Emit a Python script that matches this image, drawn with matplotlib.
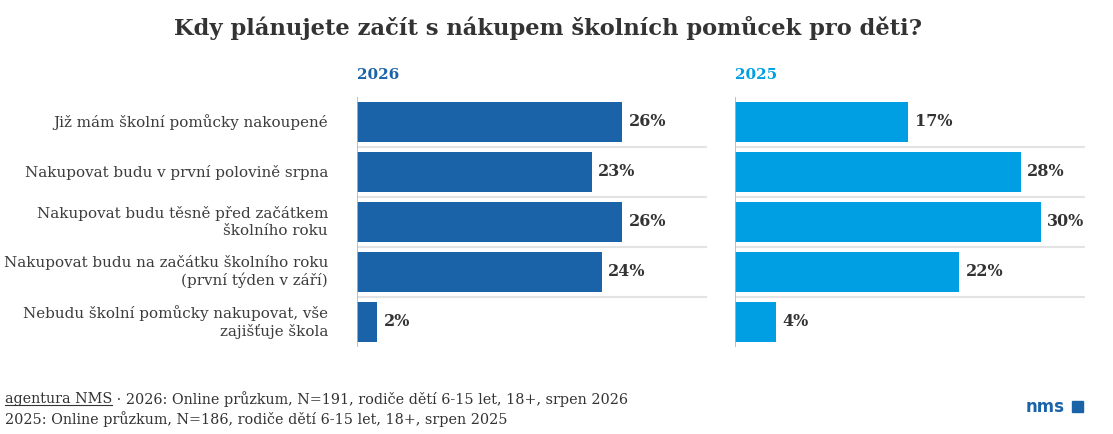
import matplotlib.pyplot as plt
from matplotlib.patches import Rectangle

# -----------------------------
# Data
# -----------------------------
categories = [
    "Již mám školní pomůcky nakoupené",
    "Nakupovat budu v první polovině srpna",
    "Nakupovat budu těsně před začátkem\nškolního roku",
    "Nakupovat budu na začátku školního roku\n(první týden v září)",
    "Nebudu školní pomůcky nakupovat, vše\nzajišťuje škola",
]
values_2026 = [26, 23, 26, 24, 2]
values_2025 = [17, 28, 30, 22, 4]
years = ["2026", "2025"]

title = "Kdy plánujete začít s nákupem školních pomůcek pro děti?"
source_line1 = " · 2026: Online průzkum, N=191, rodiče dětí 6-15 let, 18+, srpen 2026"
source_line2 = "2025: Online průzkum, N=186, rodiče dětí 6-15 let, 18+, srpen 2025"

# -----------------------------
# Style
# -----------------------------
col_2026 = "#1b63a9"
col_2025 = "#009fe3"
text_col = "#333333"
label_col = "#3c3c3c"
grid_col = "#e3e3e3"
axis_col = "#b5b5b5"
serif = "DejaVu Serif"

W, H = 1113, 434
fig = plt.figure(figsize=(W / 100, H / 100), dpi=100)

xmax = 34.3
top = 1 - 97 / H
bottom = 1 - 347 / H
panels = [
    (357, values_2026, col_2026, years[0]),
    (735, values_2025, col_2025, years[1]),
]

for i, (x0, vals, col, yr) in enumerate(panels):
    ax = fig.add_axes([x0 / W, bottom, 350 / W, top - bottom])
    ypos = list(range(len(categories)))
    ax.barh(ypos, vals, height=0.8, color=col, zorder=2)
    for y, v in zip(ypos, vals):
        ax.text(v + 0.6, y, f"{v}%", va="center", ha="left",
                fontsize=11.5, fontweight="bold", color=text_col,
                family=serif)
    for k in range(len(categories) - 1):
        ax.axhline(k + 0.5, color=grid_col, lw=1.5, zorder=1)
    ax.axvline(0, color=axis_col, lw=1.2, zorder=3)
    ax.set_xlim(0, xmax)
    ax.set_ylim(len(categories) - 0.5, -0.5)
    ax.set_xticks([])
    ax.set_yticks([])
    for s in ax.spines.values():
        s.set_visible(False)
    fig.text(x0 / W, 1 - 75 / H, yr, color=col, fontsize=11,
             fontweight="bold", family=serif, va="center", ha="left")
    if i == 0:
        for y, lab in zip(ypos, categories):
            ax.text(-29 / 10.2, y, lab, ha="right", va="center",
                    fontsize=10.9, color=label_col, family=serif,
                    linespacing=1.2)

fig.text(548 / W, 1 - 28 / H, title, ha="center", va="center",
         fontsize=16.3, fontweight="bold", color=text_col, family=serif)

# footer
fs_src = 10.35
t1 = fig.text(5 / W, 1 - 399 / H, "agentura NMS", ha="left", va="center",
              fontsize=fs_src, color=text_col, family=serif)
fig.canvas.draw()
bb = t1.get_window_extent()
fig.add_artist(plt.Line2D([bb.x0 / W, bb.x1 / W],
                          [(bb.y0 + 1) / H, (bb.y0 + 1) / H],
                          color=text_col, lw=0.8))
fig.text(bb.x1 / W, 1 - 399 / H, source_line1, ha="left", va="center",
         fontsize=fs_src, color=text_col, family=serif)
fig.text(5 / W, 1 - 419 / H, source_line2, ha="left", va="center",
         fontsize=fs_src, color=text_col, family=serif)

# logo
fig.text(1026 / W, 1 - 407 / H, "nms", ha="left", va="center",
         fontsize=12, fontweight="bold", color=col_2026, family="DejaVu Sans")
fig.add_artist(Rectangle((1072 / W, 1 - 412 / H), 11 / W, 11 / H,
                         color=col_2026, transform=fig.transFigure))

fig.savefig("out.png", dpi=100)
